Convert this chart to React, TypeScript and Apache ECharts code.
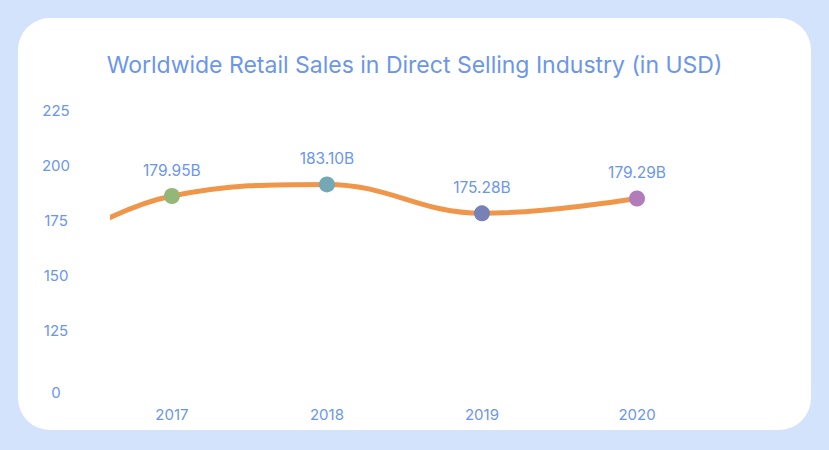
import React, { useEffect, useRef } from "react";
import * as echarts from "echarts";

const titleText = "Worldwide Retail Sales in Direct Selling Industry (in USD)";
const years = [2017, 2018, 2019, 2020];
const sales = [179.95, 183.1, 175.28, 179.29];
const dotColors = ["#94b676", "#73a8b4", "#7781b6", "#b27cba"];
// the curve enters the plot from the left edge (estimated earlier point, clipped)
const leadInYear = 2016;
const leadInValue = 160;
const yTickValues = [97, 125, 150, 175, 200, 225];
const yTickLabels = ["0", "125", "150", "175", "200", "225"];

const BLUE = "#6b96ec";
const FONT = "Inter, 'Open Sans', sans-serif";

export default function App() {
  const ref = useRef<HTMLDivElement>(null);
  useEffect(() => {
    if (!ref.current) return;
    const chart = echarts.init(ref.current, undefined, { renderer: "svg" });
    const lineData: any[] = [
      { value: [leadInYear, leadInValue], symbol: "none", label: { show: false } },
      ...years.map((y, i) => ({
        value: [y, sales[i]],
        itemStyle: { color: dotColors[i] },
      })),
    ];
    chart.setOption({
      animation: false,
      backgroundColor: "transparent",
      textStyle: { fontFamily: FONT },
      title: {
        text: titleText,
        left: "center",
        top: 48,
        textStyle: { color: BLUE, fontSize: 23, fontWeight: "normal", fontFamily: FONT },
      },
      grid: { left: 113, right: 114.5, top: 110, bottom: 58, containLabel: false, outerBoundsMode: "none" },
      xAxis: {
        type: "value",
        min: 2016.62,
        max: 2020.5,
        axisLine: { show: false },
        axisTick: { show: false },
        splitLine: { show: false },
        axisLabel: {
          customValues: years,
          formatter: (v: number) => String(v),
          color: BLUE,
          fontSize: 15,
          margin: 15,
          fontFamily: FONT,
        },
      },
      yAxis: [
        {
          type: "value",
          min: 97,
          max: 225,
          axisLine: { show: false },
          axisTick: { show: false },
          splitLine: { show: false },
          axisLabel: {
            customValues: yTickValues,
            formatter: (v: number) => {
              const idx = yTickValues.indexOf(v);
              return idx >= 0 ? yTickLabels[idx] : "";
            },
            color: BLUE,
            fontSize: 15,
            align: "center",
            margin: 57,
            fontFamily: FONT,
          },
        },
        { type: "value", min: 127, max: 203.2, show: false },
      ],
      series: [
        {
          type: "line",
          yAxisIndex: 1,
          smooth: 0.4,
          clip: true,
          data: lineData,
          symbol: "circle",
          symbolSize: 16,
          showAllSymbol: true,
          lineStyle: { color: "#f0964a", width: 5 },
          label: {
            show: true,
            position: "top",
            distance: 10,
            color: BLUE,
            fontSize: 15.5,
            fontFamily: FONT,
            formatter: (p: any) => p.value[1].toFixed(2) + "B",
          },
        },
      ],
    });
    return () => chart.dispose();
  }, []);

  return (
    <div style={{ position: "fixed", left: 0, top: 0, width: 829, height: 450, background: "#d3e3fc" }}>
      <div
        style={{
          position: "absolute",
          left: 18,
          top: 18,
          width: 793,
          height: 412,
          background: "#ffffff",
          borderRadius: 32,
        }}
      />
      <div ref={ref} style={{ position: "absolute", left: 0, top: 0, width: 829, height: 450 }} />
    </div>
  );
}
